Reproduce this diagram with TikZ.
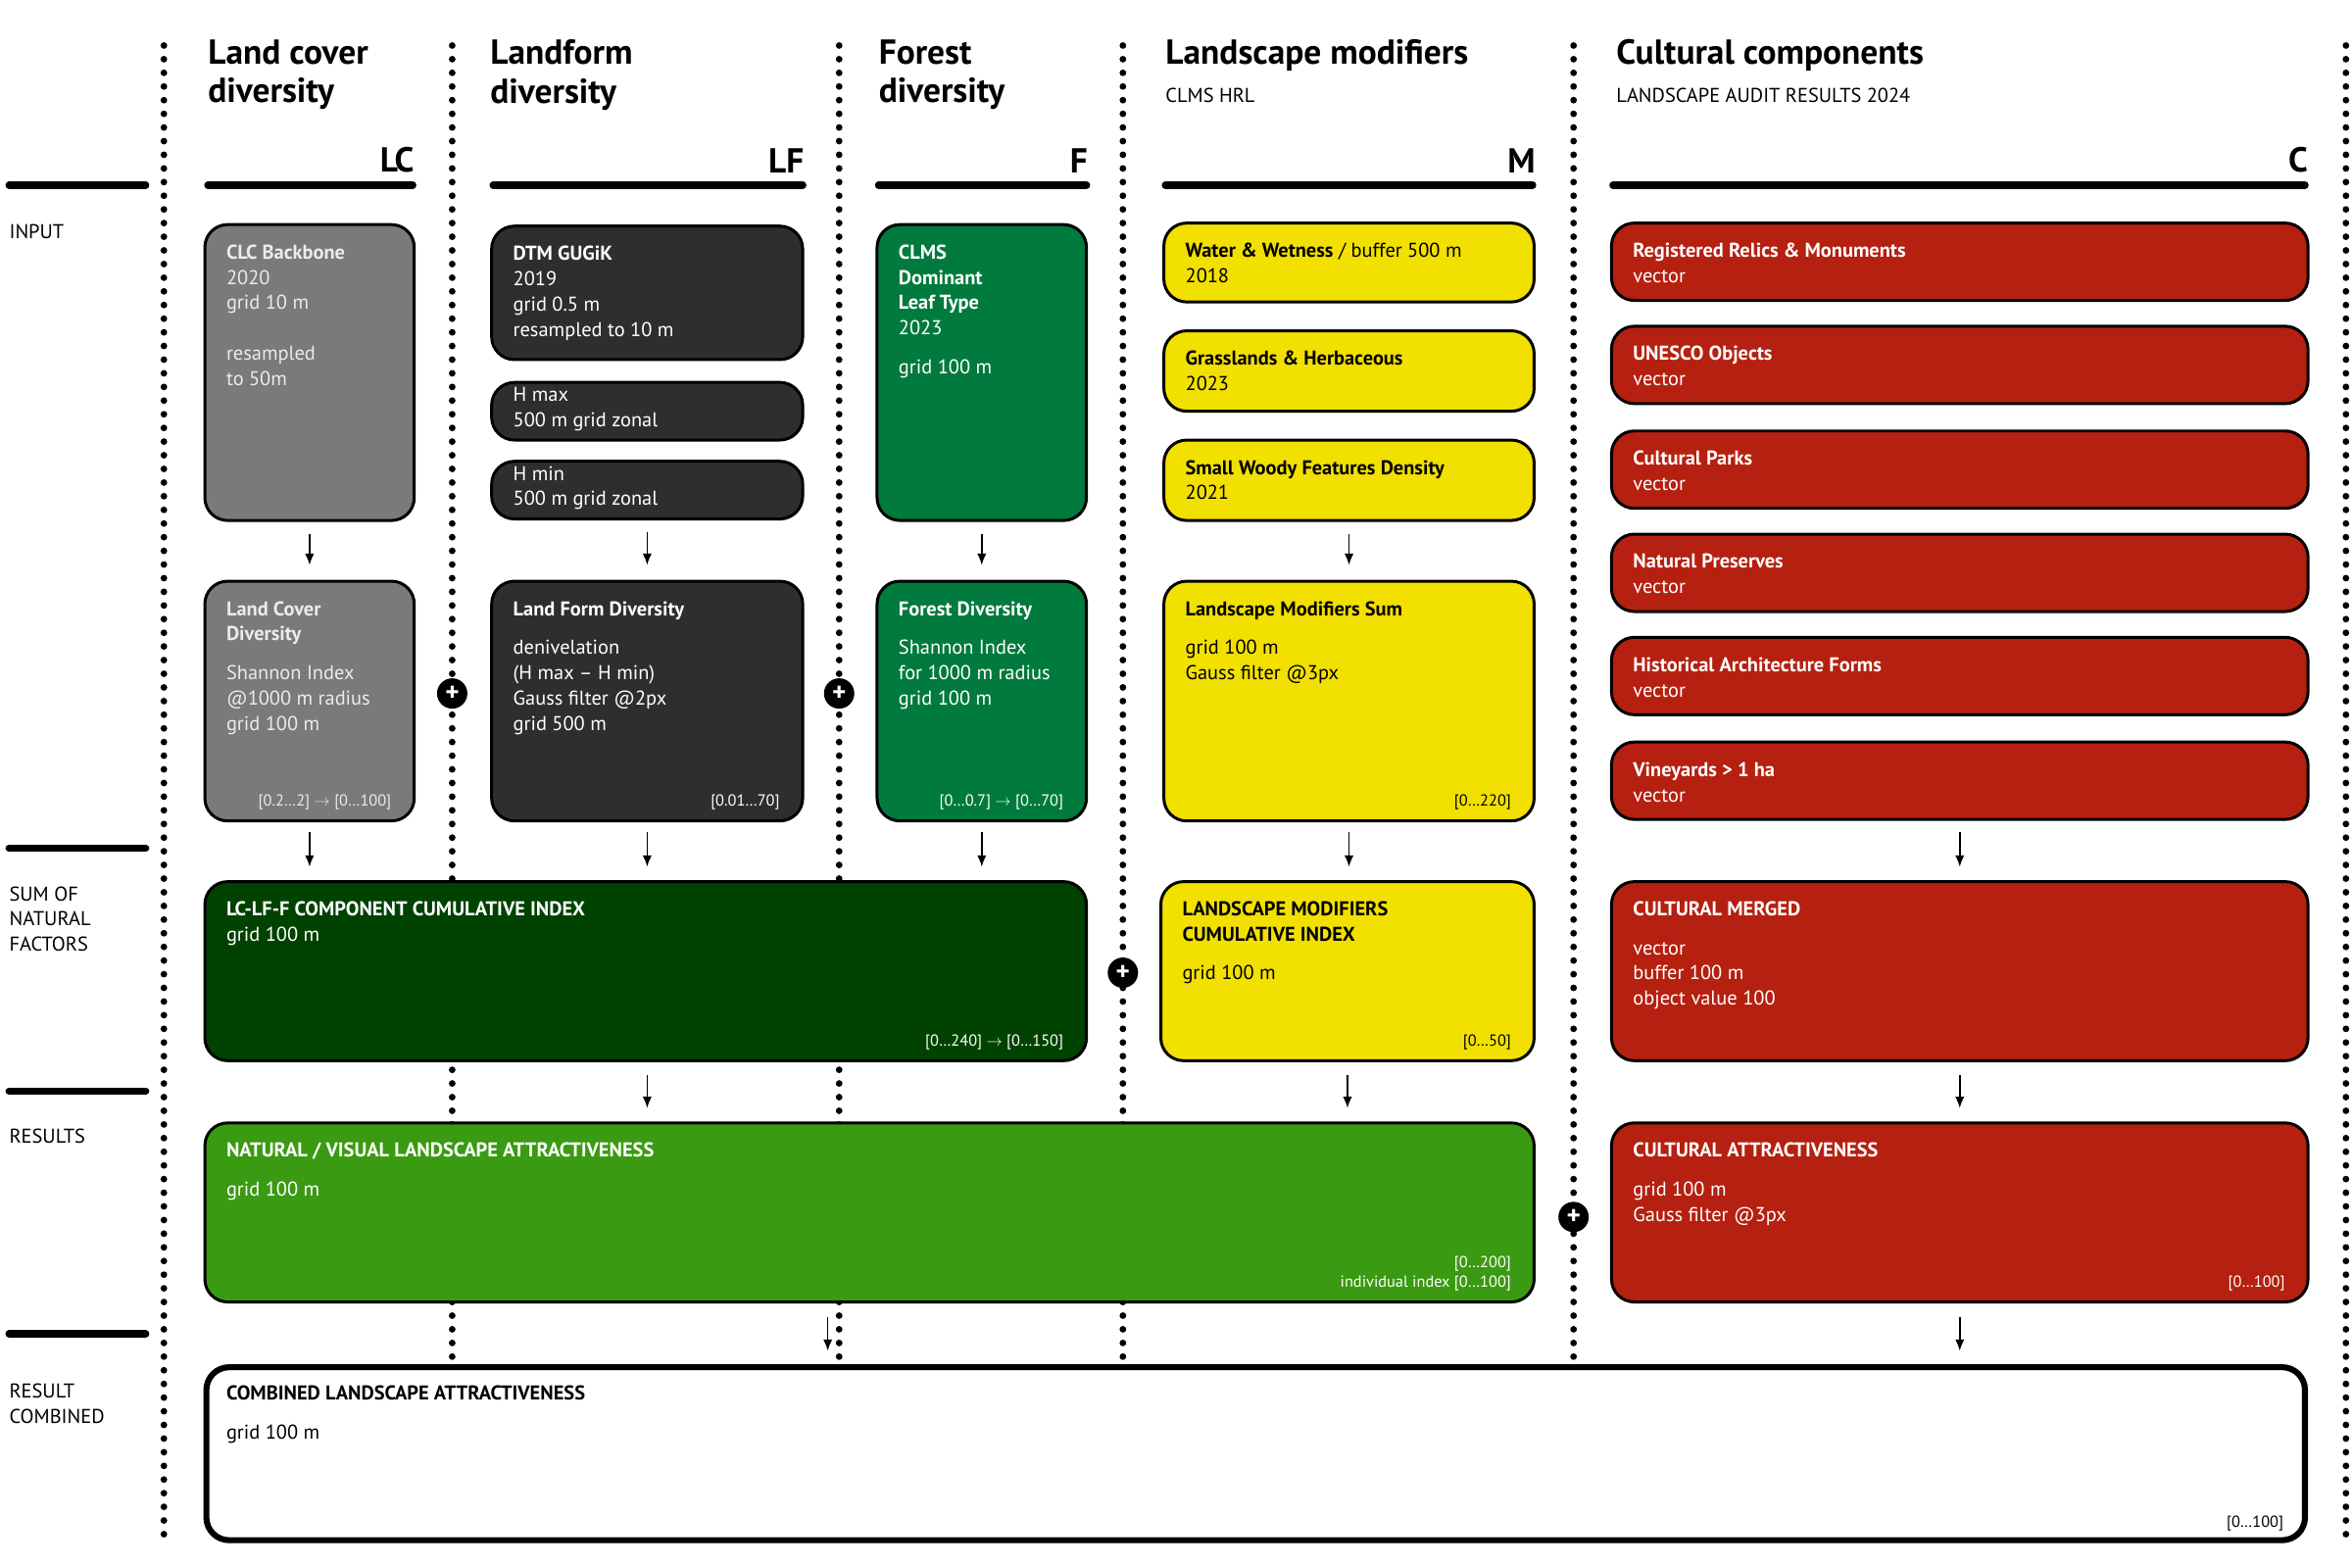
\documentclass[tikz,border=0pt]{standalone}
\usepackage{fontspec}
\setmainfont{PT Sans}
\usetikzlibrary{fit,arrows.meta}
\definecolor{lcgray}{HTML}{7A7A7A}
\definecolor{lfdark}{HTML}{2E2E2E}
\definecolor{fgreen}{HTML}{007A3D}
\definecolor{myellow}{HTML}{F2E000}
\definecolor{cred}{HTML}{B52010}
\definecolor{dgreen}{HTML}{004200}
\definecolor{ngreen}{HTML}{3A9A12}
\tikzset{
    box/.style={draw=black, line width=2.2pt, rounded corners=6mm, inner sep=0pt, fill=#1},
    txt/.style={anchor=north west, align=left, inner sep=0pt, font=\fontsize{15}{19}\selectfont},
    small/.style={anchor=south east, align=right, inner sep=0pt, font=\fontsize{12}{15}\selectfont},
    head/.style={anchor=north west, align=left, inner sep=0pt, font=\fontsize{26}{29}\selectfont\bfseries},
    code/.style={anchor=south east, inner sep=0pt, font=\fontsize{26}{29}\selectfont\bfseries},
    side/.style={anchor=north west, align=left, inner sep=0pt, font=\fontsize{15}{19}\selectfont},
    rule/.style={line width=5.5pt, line cap=round},
    sep/.style={line width=5pt, line cap=round, dash pattern=on 0pt off 3.6mm},
    arr/.style={-{Latex[length=3mm,width=2.4mm]}, line width=1.2pt},
    plus/.style={circle, fill=black, minimum size=8mm, inner sep=0pt, text=white, font=\bfseries\fontsize{20}{20}\selectfont},
}
\newcommand\bx[6]{\node[box=#6, fit={(#2,#3) (#4,#5)}] (#1) {};}
\newcommand\tx[3][white]{\node[txt,text=#1] at ([shift={(15,14)}]#2.north west) {#3};}
\newcommand\rb[3][white]{\node[small,text=#1] at ([shift={(-16,-8)}]#2.south east) {#3};}
\begin{document}
\begin{tikzpicture}[x=0.4mm, y=-0.4mm]
\useasboundingbox (0,0) rectangle (1550,1033);

% separators
\foreach \x in {108,298,553,740,1037,1546}
    \draw[sep] (\x,30) -- (\x,1018);
\foreach \y in {122,559,719,879}
    \draw[rule] (6,\y) -- (96,\y);
\draw[rule] (137,122) -- (272,122);
\draw[rule] (325,122) -- (529,122);
\draw[rule] (579,122) -- (716,122);
\draw[rule] (768,122) -- (1010,122);
\draw[rule] (1063,122) -- (1519,122);

% headers
\node[head] (hlc) at (137,26) {Land cover\\diversity};
\node[head] (hlf) at (323,26) {Landform\\diversity};
\node[head] (hf) at (579,26) {Forest\\diversity};
\node[head] (hm) at (768,26) {Landscape modifiers};
\node[side] at (768,58) {CLMS HRL};
\node[head] (hc) at (1065,26) {Cultural components};
\node[side] at (1065,58) {LANDSCAPE AUDIT RESULTS 2024};
\node[code] at (273,114) {LC};
\node[code] at (530,114) {LF};
\node[code] at (717,114) {F};
\node[code] at (1012,114) {M};
\node[code] at (1521,114) {C};

\node[side] at (6,148) {INPUT};
\node[side] at (6,584) {SUM OF\\NATURAL\\FACTORS};
\node[side] at (6,744) {RESULTS};
\node[side] at (6,912) {RESULT\\COMBINED};

% land cover
\bx{clc}{135}{148}{273}{343}{lcgray}
\tx[white!92!black]{clc}{\textbf{CLC Backbone}\\2020\\grid 10 m\\[19pt]resampled\\to 50m}
\bx{lcd}{135}{383}{273}{541}{lcgray}
\tx[white!92!black]{lcd}{\textbf{Land Cover}\\\textbf{Diversity}\\[10pt]Shannon Index\\@1000 m radius\\grid 100 m}
\rb[white!92!black]{lcd}{[0.2…2] $\rightarrow$ [0…100]}

% landform
\bx{dtm}{324}{149}{529}{237}{lfdark}
\tx{dtm}{\textbf{DTM GUGiK}\\2019\\grid 0.5 m\\resampled to 10 m}
\bx{hmax}{324}{252}{529}{290}{lfdark}
\node[txt,text=white] at ([shift={(15,4)}]hmax.north west) {H max\\500 m grid zonal};
\bx{hmin}{324}{304}{529}{342}{lfdark}
\node[txt,text=white] at ([shift={(15,4)}]hmin.north west) {H min\\500 m grid zonal};
\bx{lfd}{324}{383}{529}{541}{lfdark}
\tx{lfd}{\textbf{Land Form Diversity}\\[10pt]denivelation\\(H max – H min)\\Gauss filter @2px\\grid 500 m}
\rb{lfd}{[0.01…70]}

% forest
\bx{clms}{578}{148}{716}{343}{fgreen}
\tx{clms}{\textbf{CLMS}\\\textbf{Dominant}\\\textbf{Leaf Type}\\2023\\[10pt]grid 100 m}
\bx{fd}{578}{383}{716}{541}{fgreen}
\tx{fd}{\textbf{Forest Diversity}\\[10pt]Shannon Index\\for 1000 m radius\\grid 100 m}
\rb{fd}{[0…0.7] $\rightarrow$ [0…70]}

% landscape modifiers
\bx{ww}{767}{147}{1011}{199}{myellow}
\tx[black]{ww}{\textbf{Water \& Wetness} / buffer 500 m\\2018}
\bx{gh}{767}{218}{1011}{271}{myellow}
\tx[black]{gh}{\textbf{Grasslands \& Herbaceous}\\2023}
\bx{swf}{767}{290}{1011}{343}{myellow}
\tx[black]{swf}{\textbf{Small Woody Features Density}\\2021}
\bx{lms}{767}{383}{1011}{541}{myellow}
\tx[black]{lms}{\textbf{Landscape Modifiers Sum}\\[10pt]grid 100 m\\Gauss filter @3px}
\rb[black]{lms}{[0…220]}
\bx{lmci}{765}{581}{1011}{699}{myellow}
\tx[black]{lmci}{\textbf{LANDSCAPE MODIFIERS}\\\textbf{CUMULATIVE INDEX}\\[10pt]grid 100 m}
\rb[black]{lmci}{[0…50]}

% cultural components
\bx{relic}{1062}{147}{1521}{198}{cred}
\tx{relic}{\textbf{Registered Relics \& Monuments}\\vector}
\bx{unesco}{1062}{215}{1521}{266}{cred}
\tx{unesco}{\textbf{UNESCO Objects}\\vector}
\bx{parks}{1062}{284}{1521}{335}{cred}
\tx{parks}{\textbf{Cultural Parks}\\vector}
\bx{preserve}{1062}{352}{1521}{403}{cred}
\tx{preserve}{\textbf{Natural Preserves}\\vector}
\bx{histarch}{1062}{420}{1521}{471}{cred}
\tx{histarch}{\textbf{Historical Architecture Forms}\\vector}
\bx{vine}{1062}{489}{1521}{540}{cred}
\tx{vine}{\textbf{Vineyards > 1 ha}\\vector}
\bx{merged}{1062}{581}{1521}{699}{cred}
\tx{merged}{\textbf{CULTURAL MERGED}\\[10pt]vector\\buffer 100 m\\object value 100}
\bx{cattr}{1062}{740}{1521}{858}{cred}
\tx{cattr}{\textbf{CULTURAL ATTRACTIVENESS}\\[10pt]grid 100 m\\Gauss filter @3px}
\rb{cattr}{[0…100]}

% sums and results
\bx{lclff}{135}{581}{716}{699}{dgreen}
\tx{lclff}{\textbf{LC-LF-F COMPONENT CUMULATIVE INDEX}\\grid 100 m}
\rb{lclff}{[0…240] $\rightarrow$ [0…150]}
\bx{natural}{135}{740}{1011}{858}{ngreen}
\tx{natural}{\textbf{NATURAL / VISUAL LANDSCAPE ATTRACTIVENESS}\\[10pt]grid 100 m}
\rb{natural}{[0…200]\\individual index [0…100]}
\node[box=white, line width=4.5pt, fit={(136,901) (1519,1015)}] (comb) {};
\tx[black]{comb}{\textbf{COMBINED LANDSCAPE ATTRACTIVENESS}\\[10pt]grid 100 m}
\rb[black]{comb}{[0…100]}

% plus signs
\node[plus] (p1) at (298,457) {+};
\node[plus] (p2) at (553,457) {+};
\node[plus] (p3) at (740,641) {+};
\node[plus] (p4) at (1037,802) {+};

% arrows
\draw[arr] ([yshift=-9]clc.south) -- ([yshift=11]lcd.north);
\draw[arr] ([yshift=-9]hmin.south) -- ([yshift=11]lfd.north);
\draw[arr] ([yshift=-9]clms.south) -- ([yshift=11]fd.north);
\draw[arr] ([yshift=-9]swf.south) -- ([yshift=11]lms.north);
\draw[arr] ([yshift=-7]lcd.south) -- ([yshift=10]lcd.south |- lclff.north);
\draw[arr] ([yshift=-7]lfd.south) -- ([yshift=10]lfd.south |- lclff.north);
\draw[arr] ([yshift=-7]fd.south) -- ([yshift=10]fd.south |- lclff.north);
\draw[arr] ([yshift=-7]lms.south) -- ([yshift=10]lms.south |- lmci.north);
\draw[arr] ([yshift=-8]vine.south) -- ([yshift=10]merged.north);
\draw[arr] ([yshift=-10]lfd.south |- lclff.south) -- ([yshift=10]lfd.south |- natural.north);
\draw[arr] ([yshift=-10]lmci.south) -- ([yshift=10]lmci.south |- natural.north);
\draw[arr] ([yshift=-10]merged.south) -- ([yshift=10]cattr.north);
\draw[arr] ([xshift=-11mm, yshift=-10]natural.south) -- ([xshift=-11mm, yshift=10]natural.south |- comb.north);
\draw[arr] ([yshift=-10]cattr.south) -- ([yshift=10]cattr.south |- comb.north);
\end{tikzpicture}
\end{document}
